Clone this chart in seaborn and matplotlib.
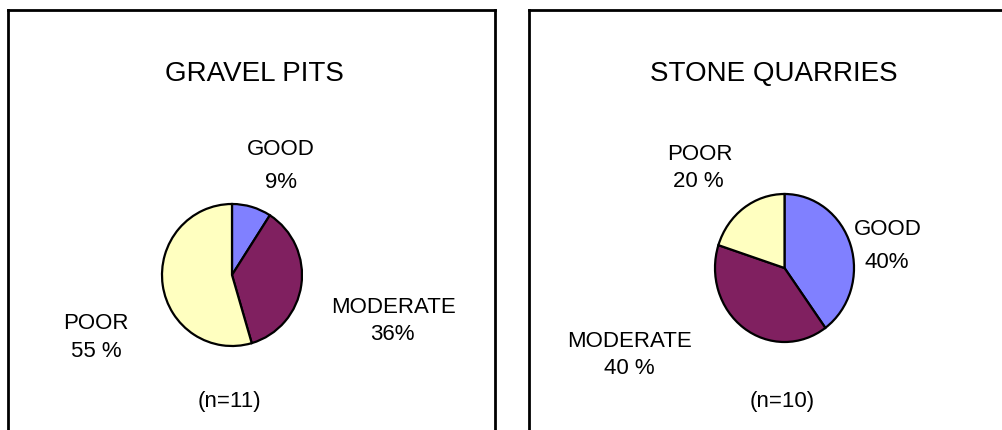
import matplotlib
matplotlib.use("Agg")
import matplotlib.pyplot as plt
import seaborn as sns

# Data
categories = ["GOOD", "MODERATE", "POOR"]
gravel_counts = [1, 4, 6]      # n=11
stone_counts = [4, 4, 2]       # n=10
gravel_pct = ["9%", "36%", "55 %"]
stone_pct = ["40%", "40 %", "20 %"]
titles = ["GRAVEL PITS", "STONE QUARRIES"]
n_labels = ["(n=11)", "(n=10)"]

sns.set_theme(style="white")
plt.rcParams['font.family'] = ['Liberation Sans', 'DejaVu Sans']

colors = sns.color_palette(["#8080FF", "#802060", "#FFFFC0"])

W, H = 1003, 430
fig = plt.figure(figsize=(W / 100, H / 100), dpi=100)


def px_rect(x0, y0, x1, y1):
    # image pixel box -> figure fraction rect
    return [x0 / W, 1 - y1 / H, (x1 - x0) / W, (y1 - y0) / H]


def txt(x, y, s, size=16):
    fig.text(x / W, 1 - y / H, s, ha='center', va='baseline',
             fontsize=size, color='black')


# panel frames (no bottom edge visible)
for rect in [px_rect(8, 10, 495, 440), px_rect(529, 10, 1040, 440)]:
    frame = fig.add_axes(rect)
    frame.set_xticks([])
    frame.set_yticks([])
    frame.set_facecolor('none')
    for side in ['top', 'left', 'right']:
        frame.spines[side].set_visible(True)
        frame.spines[side].set_color('black')
        frame.spines[side].set_linewidth(2)
    frame.spines['bottom'].set_visible(False)

# pies
pie_boxes = [px_rect(162, 204, 302, 346), px_rect(715, 194, 854, 342)]
for box, counts in zip(pie_boxes, [gravel_counts, stone_counts]):
    ax = fig.add_axes(box)
    ax.pie(counts, colors=colors, startangle=90, counterclock=False,
           radius=1, frame=True,
           wedgeprops=dict(edgecolor='black', linewidth=1.6, clip_on=False))
    ax.set_xlim(-1, 1)
    ax.set_ylim(-1, 1)
    ax.set_aspect('auto')
    ax.set_xticks([])
    ax.set_yticks([])
    ax.axis('off')

# left panel text
txt(254, 81, titles[0], size=20)
txt(281, 155, categories[0])
txt(281, 188, gravel_pct[0])
txt(394, 313, categories[1])
txt(392, 340, gravel_pct[1])
txt(96, 329, categories[2])
txt(96, 357, gravel_pct[2])
txt(229, 407, n_labels[0])

# right panel text
txt(774, 81, titles[1], size=20)
txt(888, 235, categories[0])
txt(887, 268, stone_pct[0])
txt(630, 347, categories[1])
txt(629, 374, stone_pct[1])
txt(700, 160, categories[2])
txt(698, 187, stone_pct[2])
txt(782, 407, n_labels[1])

fig.savefig("out.png", dpi=100)
